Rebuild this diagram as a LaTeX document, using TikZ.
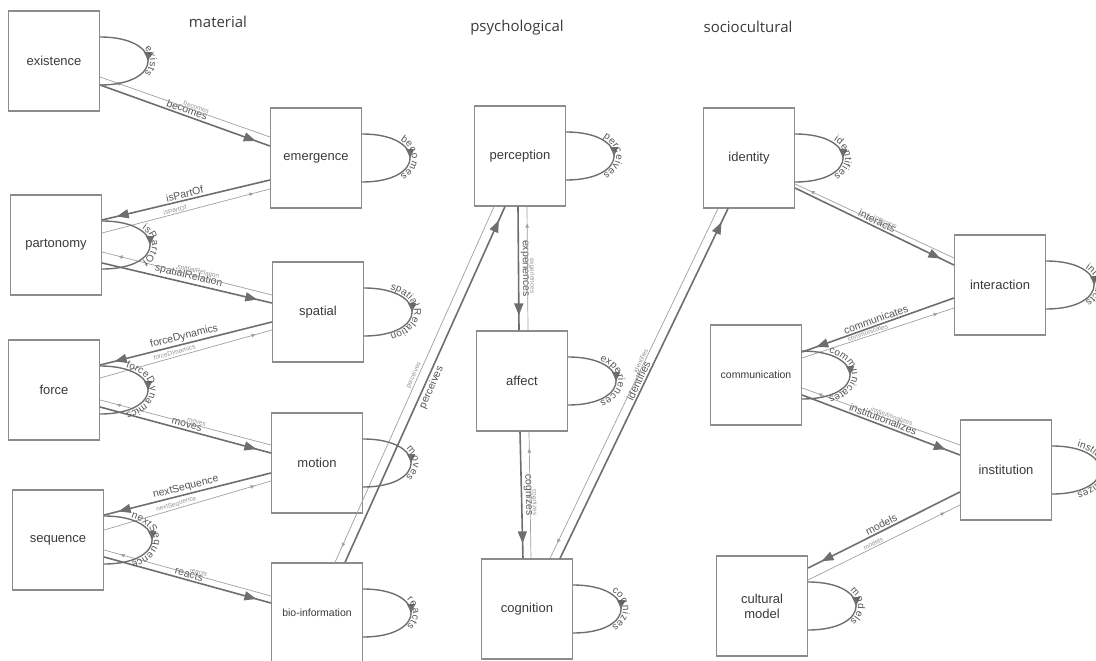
\documentclass[tikz,border=0pt]{standalone}
\usepackage{fontspec}
\setmainfont{Liberation Sans}
\newfontfamily\titlefont{Open Sans}
\usetikzlibrary{arrows.meta,calc,decorations.markings,decorations.text}
\definecolor{boxgray}{HTML}{8C8C8C}
\definecolor{relgray}{HTML}{6E6E6E}
\definecolor{invgray}{HTML}{A0A0A0}
\definecolor{txtgray}{HTML}{3A3A3A}
\definecolor{lblgray}{HTML}{555555}
\definecolor{invlbl}{HTML}{959595}
\tikzset{
  box/.style = {draw=boxgray, line width=1.2pt, minimum width=91pt, minimum height=100pt,
                inner sep=2pt, align=center, text=txtgray, font=\fontsize{13}{15}\selectfont},
  small box/.style = {box, font=\fontsize{10.5}{12}\selectfont},
  title/.style = {text=txtgray, font=\titlefont\fontsize{15}{18}\selectfont},
  rel/.style = {draw=relgray, line width=1.6pt, postaction={decorate},
                decoration={markings, mark=at position -15pt with {\arrow[relgray]{Triangle[length=12pt,width=9pt]}}}},
  inv/.style = {draw=invgray, line width=0.7pt, postaction={decorate},
                decoration={markings, mark=at position 17pt with {\arrowreversed[invgray]{Triangle[length=4pt,width=3.5pt]}}}},
  rel label/.style = {sloped, inner sep=1.5pt, text=lblgray, font=\fontsize{10.5}{12}\selectfont},
  inv label/.style = {sloped, pos=0.56, inner sep=1pt, text=invlbl, font=\fontsize{6.5}{8}\selectfont},
  loop line/.style = {draw=relgray, line width=1.4pt, postaction={decorate},
                decoration={markings, mark=at position 0.5 with {\arrow[relgray]{Triangle[length=9pt,width=8pt]}}}},
  loop label/.style = {decorate, decoration={text along path, text align=center, raise=2pt,
                text={|\fontsize{10}{12}\selectfont\color{lblgray}|#1}}}
}
\newcommand{\selfloop}[2]{%
  \draw[loop line] ($(#1.east)+(0,-24)$) .. controls +(64,0) and +(64,0) .. ($(#1.east)+(0,24)$);
  \path[loop label={#2}] ($(#1.east)+(0,-24)$) .. controls +(64,0) and +(64,0) .. ($(#1.east)+(0,24)$);
}

\begin{document}
\begin{tikzpicture}[x=1pt,y=-1pt]
\useasboundingbox (0,0) rectangle (1096,661);

\node[title] (tmat) at (218,22) {material};
\node[title] (tpsy) at (517,28) {psychological};
\node[title] (tsoc) at (748,27) {sociocultural};

\node[box] (ex) at (54,61) {existence};
\node[box] (em) at (316,158) {emergence};
\node[box] (pa) at (56,245) {partonomy};
\node[box] (sp) at (318,312) {spatial};
\node[box] (fo) at (54,390) {force};
\node[box] (mo) at (317,463) {motion};
\node[box] (se) at (58,540) {sequence};
\node[small box] (bi) at (317,613) {bio-information};
\node[box] (pe) at (520,156) {perception};
\node[box] (af) at (522,381) {affect};
\node[box] (cg) at (527,609) {cognition};
\node[box] (id) at (749,158) {identity};
\node[box] (ia) at (1000,285) {interaction};
\node[small box] (cm) at (756,375) {communication};
\node[box] (it) at (1006,470) {institution};
\node[box] (cu) at (762,606) {cultural\\model};

\draw[rel] ($(ex.east)+(0,24)$) -- node[rel label, above] {becomes} ($(em.west)+(0,-12)$);
\draw[inv] ($(ex.east)+(0,16)$) -- node[inv label, above] {becomes} ($(em.west)+(0,-21)$);
\draw[rel] ($(em.west)+(0,22)$) -- node[rel label, above] {isPartOf} ($(pa.east)+(0,-25)$);
\draw[inv] ($(em.west)+(0,31)$) -- node[inv label, above] {isPartOf} ($(pa.east)+(0,-12)$);
\draw[rel] ($(pa.east)+(0,18)$) -- node[rel label, above] {spatialRelation} ($(sp.west)+(0,-9)$);
\draw[inv] ($(pa.east)+(0,7)$) -- node[inv label, above] {spatialRelation} ($(sp.west)+(0,-17)$);
\draw[rel] ($(sp.west)+(0,10)$) -- node[rel label, above] {forceDynamics} ($(fo.east)+(0,-25)$);
\draw[inv] ($(sp.west)+(0,18)$) -- node[inv label, above] {forceDynamics} ($(fo.east)+(0,-12)$);
\draw[rel] ($(fo.east)+(0,17)$) -- node[rel label, above] {moves} ($(mo.west)+(0,-10)$);
\draw[inv] ($(fo.east)+(0,10)$) -- node[inv label, above] {moves} ($(mo.west)+(0,-18)$);
\draw[rel] ($(mo.west)+(0,10)$) -- node[rel label, above] {nextSequence} ($(se.east)+(0,-25)$);
\draw[inv] ($(mo.west)+(0,18)$) -- node[inv label, above] {nextSequence} ($(se.east)+(0,-10)$);
\draw[rel] ($(se.east)+(0,17)$) -- node[rel label, above] {reacts} ($(bi.west)+(0,-10)$);
\draw[inv] ($(se.east)+(0,10)$) -- node[inv label, above] {reacts} ($(bi.west)+(0,-17)$);

\draw[rel] ($(bi.north)+(28,0)$) -- node[rel label, below] {perceives} ($(pe.south)+(-15,0)$);
\draw[inv] ($(bi.north)+(18,0)$) -- node[inv label, above, pos=0.52] {perceives} ($(pe.south)+(-26,0)$);
\draw[rel] ($(pe.south)+(-2,0)$) -- node[rel label, above] {experiences} ($(af.north)+(-3,0)$);
\draw[inv] ($(pe.south)+(7,0)$) -- node[inv label, above] {experiences} ($(af.north)+(6,0)$);
\draw[rel] ($(af.south)+(-2,0)$) -- node[rel label, above] {cognizes} ($(cg.north)+(-4,0)$);
\draw[inv] ($(af.south)+(7,0)$) -- node[inv label, above] {cognizes} ($(cg.north)+(4,0)$);
\draw[rel] ($(cg.north)+(33,0)$) -- node[rel label, above] {identifies} ($(id.south)+(-21,0)$);
\draw[inv] ($(cg.north)+(23,0)$) -- node[inv label, above] {identifies} ($(id.south)+(-31,0)$);

\draw[rel] ($(id.east)+(0,30)$) -- node[rel label, above] {interacts} ($(ia.west)+(0,-20)$);
\draw[inv] ($(id.east)+(0,26)$) -- node[inv label, above] {interacts} ($(ia.west)+(0,-27)$);
\draw[rel] ($(ia.west)+(0,13)$) -- node[rel label, above] {communicates} ($(cm.east)+(0,-23)$);
\draw[inv] ($(ia.west)+(0,23)$) -- node[inv label, above] {communicates} ($(cm.east)+(0,-17)$);
\draw[rel] ($(cm.east)+(0,20)$) -- node[rel label, above] {institutionalizes} ($(it.west)+(0,-15)$);
\draw[inv] ($(cm.east)+(0,13)$) -- node[inv label, above] {institutionalizes} ($(it.west)+(0,-25)$);
\draw[rel] ($(it.west)+(0,22)$) -- node[rel label, above] {models} ($(cu.east)+(0,-38)$);
\draw[inv] ($(it.west)+(0,35)$) -- node[inv label, above] {models} ($(cu.east)+(0,-26)$);

\selfloop{ex}{exists}
\selfloop{em}{becomes}
\selfloop{pa}{isPartOf}
\selfloop{sp}{spatialRelation}
\selfloop{fo}{forceDynamics}
\selfloop{mo}{moves}
\selfloop{se}{nextSequence}
\selfloop{bi}{reacts}
\selfloop{pe}{perceives}
\selfloop{af}{experiences}
\selfloop{cg}{cognizes}
\selfloop{id}{identifies}
\selfloop{ia}{interacts}
\selfloop{cm}{communicates}
\selfloop{it}{institutionalizes}
\selfloop{cu}{models}
\end{tikzpicture}
\end{document}
